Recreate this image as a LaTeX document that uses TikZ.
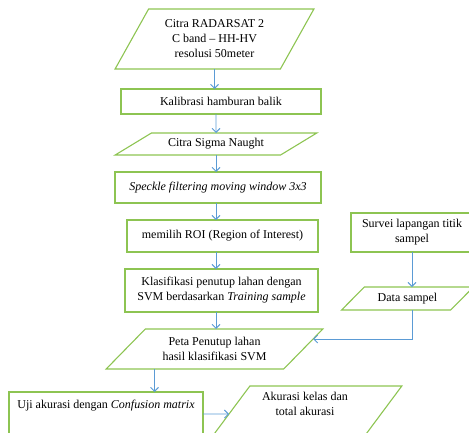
\documentclass[tikz,border=0pt]{standalone}
\usepackage{fontspec}
\setmainfont{Liberation Serif}
\usepackage{tikz}
\usetikzlibrary{shapes.geometric,arrows.meta,calc}
\definecolor{boxgreen}{RGB}{141,196,82}
\definecolor{arrowblue}{RGB}{91,155,213}

\begin{document}
\begin{tikzpicture}[x=1pt,y=-1pt,
  every node/.style={font=\fontsize{12}{15}\selectfont,outer sep=0pt,inner sep=2pt,align=center},
  procbox/.style={draw=boxgreen,line width=1.1pt,rectangle},
  databox/.style args={#1/#2}{draw=boxgreen,line width=1.1pt,trapezium,trapezium stretches=true,
    trapezium left angle=#1,trapezium right angle=#2},
  arr/.style={draw=arrowblue,line width=0.9pt,-{Straight Barb[length=4pt,width=8pt]}}]
\useasboundingbox (0,0) rectangle (469,432);
\clip (0,0) rectangle (469,432);
\node[databox=58/122,minimum width=199,minimum height=60] (radar) at (214.5,39) {Citra RADARSAT 2\\C band -- HH-HV\\resolusi 50meter};
\node[procbox,minimum width=200,minimum height=25] (kal) at (221,101.5) {Kalibrasi hamburan balik};
\node[databox=28/152,minimum width=202,minimum height=22] (sigma) at (216,144) {Citra Sigma Naught};
\node[procbox,minimum width=206,minimum height=31] (speckle) at (218,187.5) {\textit{Speckle filtering moving window 3x3}};
\node[procbox,minimum width=191,minimum height=32] (roi) at (222.5,236) {memilih ROI (Region of Interest)};
\node[procbox,minimum width=193,minimum height=43] (klas) at (221.5,290.5) {Klasifikasi penutup lahan dengan\\SVM berdasarkan \textit{Training sample}};
\node[databox=42/138,minimum width=217,minimum height=40] (peta) at (214.5,349) {Peta Penutup lahan\\hasil klasifikasi SVM};
\node[procbox,minimum width=122,minimum height=39] (survei) at (412,232.5) {Survei lapangan titik\\sampel};
\node[databox=41.5/138.5,minimum width=133,minimum height=23] (data) at (407.5,298.5) {Data sampel};
\node[procbox,minimum width=194,minimum height=44] (uji) at (106,414) {Uji akurasi dengan \textit{Confusion matrix}\\\strut};
\node[databox=54/126,minimum width=194,minimum height=56] (akurasi) at (305,414) {Akurasi kelas dan\\total akurasi\\\strut};

\draw[arr] (radar.south) -- (radar.south |- kal.north);
\draw[arr] (kal.south -| sigma) -- (sigma.north);
\draw[arr] (sigma.south) -- (sigma.south |- speckle.north);
\draw[arr] (speckle.south -| sigma) -- (sigma |- roi.north);
\draw[arr] (roi.south -| sigma) -- (sigma |- klas.north);
\draw[arr] (klas.south -| sigma) -- (sigma |- peta.north);
\draw[arr] (survei.south) -- (survei.south |- data.north);
\draw[arr] (data.south -| survei) |- ($(peta.top right corner)!0.25!(peta.bottom right corner)$);
\draw[arr] ([xshift=-60]peta.south) -- ([xshift=-60]peta.south |- uji.north);
\draw[arr] (uji.east) -- (akurasi.west);
\end{tikzpicture}
\end{document}
